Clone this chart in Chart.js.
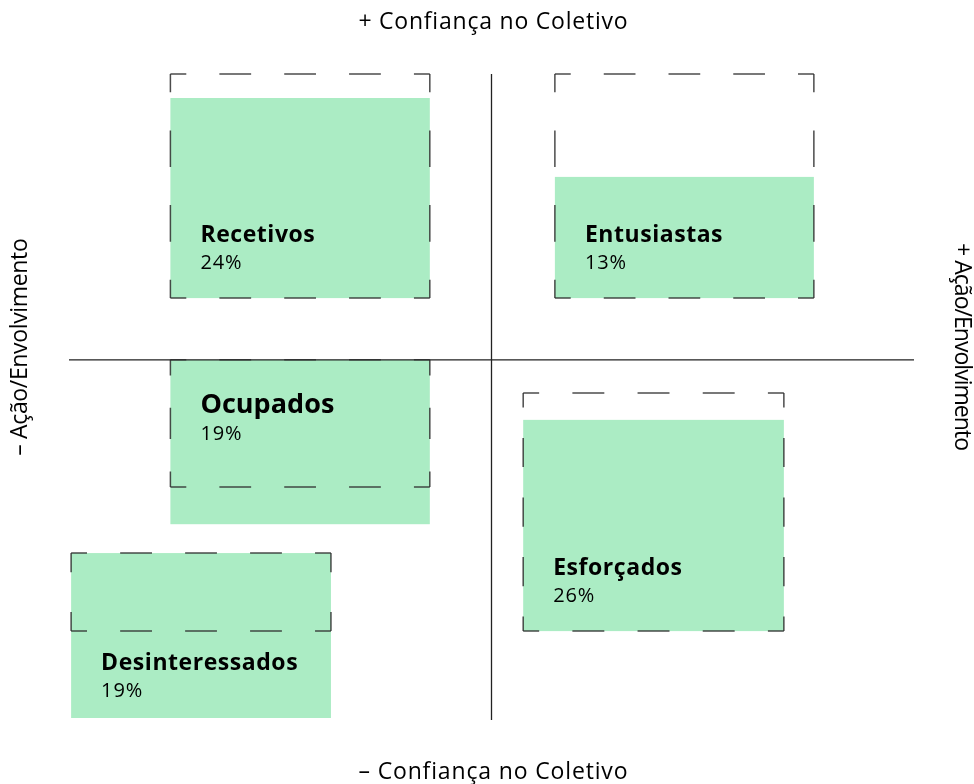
<!DOCTYPE html>
<html lang="pt">
<head>
<meta charset="utf-8">
<title>Confiança no Coletivo x Ação/Envolvimento</title>
<script src="https://cdn.jsdelivr.net/npm/chart.js@4.4.1/dist/chart.umd.min.js"></script>
<style>
  html, body { margin: 0; padding: 0; background: #fff; }
  #wrap { width: 974px; height: 784px; position: relative; }
</style>
</head>
<body>
<div id="wrap"><canvas id="chart"></canvas></div>
<script>
// --- Data ---
const segments = ['Recetivos', 'Entusiastas', 'Ocupados', 'Desinteressados', 'Esforçados'];
const shares = [24, 13, 19, 19, 26];

// horizontal extent (Confiança no Coletivo, -100..100)
const xFrom = [-76, 15, -76, -99.5, 7.5];
const xTo = [-14.6, 76.3, -14.6, -38, 69.2];

// filled block (Ação/Envolvimento)
const fillFrom = [21.6, 21.6, -57.5, -125.3, -94.9];
const fillTo = [91.6, 64, 0, -67.6, -21];

// dashed reference frame
const frameFrom = [21.6, 21.6, -44.5, -94.9, -94.9];
const frameTo = [100, 100, 0, -67.6, -11.6];

// baseline of each segment name
const labelAt = [41.2, 41.2, -18.6, -108.5, -75.3];

const axisTop = '+ Confiança no Coletivo';
const axisBottom = '\u2013 Confiança no Coletivo';
const axisLeft = '\u2013 Ação/Envolvimento';
const axisRight = '+ Ação/Envolvimento';

const FONT = '"Open Sans", "Noto Sans", sans-serif';
const GREEN = '#abecc4';

// --- Helpers ---
function dashedSide(ctx, x1, y1, x2, y2) {
    const len = Math.hypot(x2 - x1, y2 - y1);
    const n = Math.max(1, Math.round(len / 66));
    const period = len / n;
    const dash = period * 0.49;
    ctx.setLineDash([dash, period - dash]);
    ctx.lineDashOffset = dash / 2;
    ctx.beginPath();
    ctx.moveTo(x1, y1);
    ctx.lineTo(x2, y2);
    ctx.stroke();
}

// spread letters a little so text reaches the wider look of the original face
function spacingFor(ctx, font, sample, target) {
    ctx.save();
    ctx.font = font;
    if ('letterSpacing' in ctx) ctx.letterSpacing = '0px';
    const w = ctx.measureText(sample).width;
    ctx.restore();
    return (target - w) / sample.length;
}

function setSpacing(ctx, px) {
    if ('letterSpacing' in ctx) ctx.letterSpacing = px.toFixed(2) + 'px';
}

const quadrantPlugin = {
    id: 'quadrantBoxes',
    beforeDatasetsDraw(chart) {
        const { ctx, chartArea, scales: { x, y } } = chart;
        ctx.save();

        // green blocks
        segments.forEach((name, i) => {
            const l = x.getPixelForValue(xFrom[i]);
            const r = x.getPixelForValue(xTo[i]);
            const t = y.getPixelForValue(fillTo[i]);
            const b = y.getPixelForValue(fillFrom[i]);
            ctx.fillStyle = GREEN;
            ctx.fillRect(l, t, r - l, b - t);
        });

        // axes through the origin
        ctx.strokeStyle = '#222';
        ctx.lineWidth = 1.3;
        ctx.setLineDash([]);
        const x0 = x.getPixelForValue(0);
        const y0 = y.getPixelForValue(0);
        ctx.beginPath();
        ctx.moveTo(chartArea.left, y0);
        ctx.lineTo(chartArea.right, y0);
        ctx.moveTo(x0, chartArea.top);
        ctx.lineTo(x0, chartArea.bottom);
        ctx.stroke();

        // dashed frames
        ctx.strokeStyle = 'rgba(45, 45, 45, 0.85)';
        ctx.lineWidth = 1.5;
        segments.forEach((name, i) => {
            const l = x.getPixelForValue(xFrom[i]);
            const r = x.getPixelForValue(xTo[i]);
            const t = y.getPixelForValue(frameTo[i]);
            const b = y.getPixelForValue(frameFrom[i]);
            dashedSide(ctx, l, t, r, t);
            dashedSide(ctx, r, t, r, b);
            dashedSide(ctx, l, b, r, b);
            dashedSide(ctx, l, t, l, b);
        });
        ctx.setLineDash([]);

        // labels
        const nameFont = `bold 23px ${FONT}`;
        const bigFont = `bold 27px ${FONT}`;
        const pctFont = `20px ${FONT}`;
        const nameSp = spacingFor(ctx, nameFont, 'Desinteressados', 197);
        const bigSp = spacingFor(ctx, bigFont, 'Ocupados', 134);
        const pctSp = spacingFor(ctx, pctFont, '24%', 42);

        ctx.fillStyle = '#000';
        ctx.textAlign = 'left';
        ctx.textBaseline = 'alphabetic';
        segments.forEach((name, i) => {
            const l = x.getPixelForValue(xFrom[i]) + 30;
            const base = y.getPixelForValue(labelAt[i]);
            const big = name === 'Ocupados';
            ctx.font = big ? bigFont : nameFont;
            setSpacing(ctx, big ? bigSp : nameSp);
            ctx.fillText(name, l, base);
            ctx.font = pctFont;
            setSpacing(ctx, pctSp);
            ctx.fillText(shares[i] + '%', l, base + 27);
        });

        ctx.restore();
    },
    afterDraw(chart) {
        const { ctx } = chart;
        const axisFont = `23px ${FONT}`;

        const put = (text, width, cx, cy, angle) => {
            const sp = spacingFor(ctx, axisFont, text, width);
            ctx.save();
            ctx.fillStyle = '#000';
            ctx.font = axisFont;
            setSpacing(ctx, sp);
            ctx.textAlign = 'center';
            ctx.textBaseline = 'middle';
            ctx.translate(cx, cy);
            ctx.rotate(angle);
            ctx.fillText(text, sp / 2, 0);
            ctx.restore();
        };
        put(axisTop, 270, 493, 22, 0);
        put(axisBottom, 270, 493, 772, 0);
        put(axisLeft, 217, 20, 347, -Math.PI / 2);
        put(axisRight, 207, 962, 347, Math.PI / 2);
    }
};

// --- Chart ---
new Chart(document.getElementById('chart'), {
    type: 'scatter',
    data: { datasets: [{ data: [], pointRadius: 0 }] },
    options: {
        responsive: true,
        maintainAspectRatio: false,
        animation: false,
        layout: { padding: { left: 69, right: 60, top: 74, bottom: 64 } },
        plugins: { legend: { display: false }, tooltip: { enabled: false } },
        scales: {
            x: { type: 'linear', min: -100, max: 100, display: false },
            y: { type: 'linear', min: -126, max: 100, display: false }
        }
    },
    plugins: [quadrantPlugin]
});
</script>
</body>
</html>
